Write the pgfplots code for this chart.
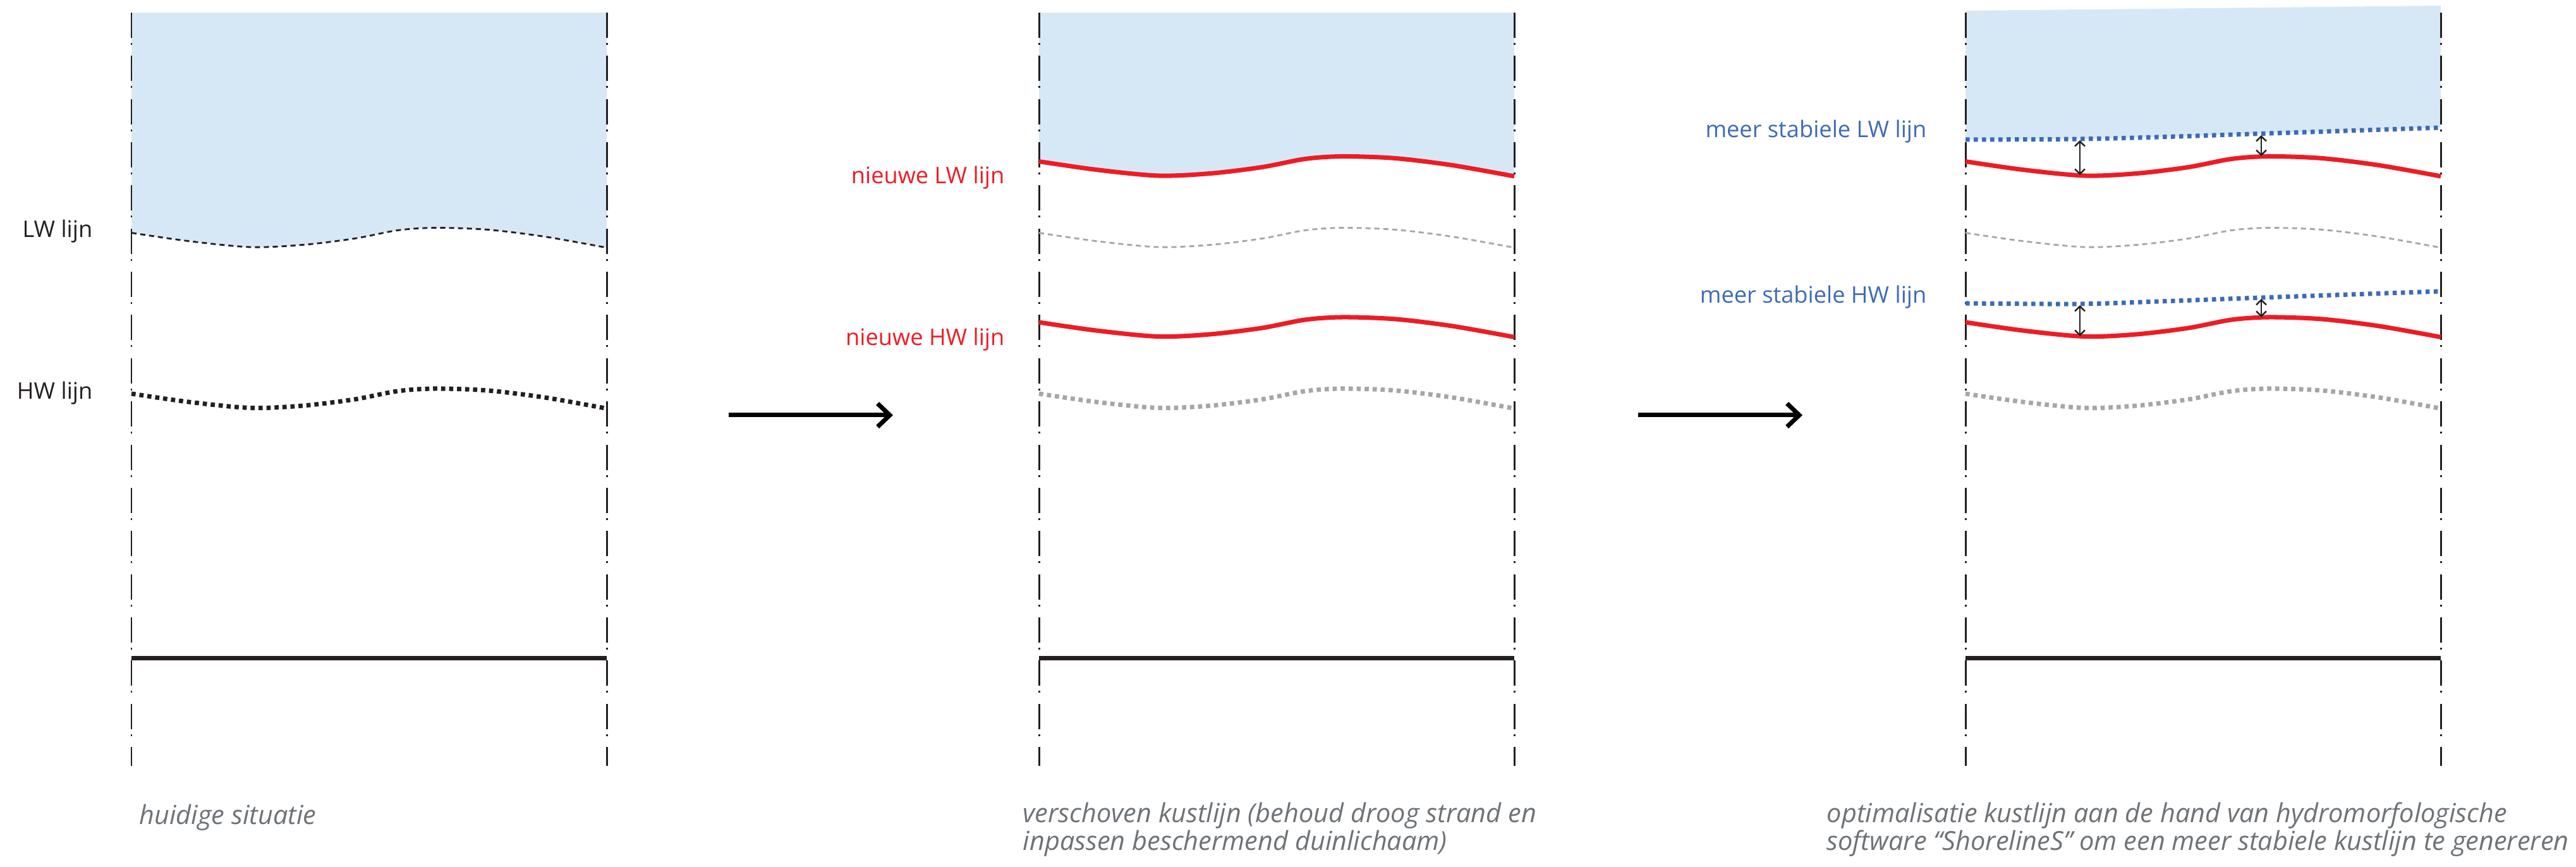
\documentclass[border=0pt]{standalone}
\usepackage{pgfplots}
\pgfplotsset{compat=1.18}
\usepgfplotslibrary{fillbetween}
\usetikzlibrary{arrows.meta}
\usepackage{fontspec}
\setmainfont{Open Sans}
\definecolor{waterblue}{RGB}{214,232,246}
\definecolor{kred}{RGB}{237,28,36}
\definecolor{kblue}{RGB}{61,107,181}
\definecolor{kgrey}{RGB}{166,166,166}
\definecolor{capgrey}{RGB}{109,114,119}
\definecolor{ink}{RGB}{35,31,32}
\tikzset{
  vline/.style={ink, line width=0.85pt, dash pattern=on 11.38pt off 2.28pt on 0.85pt off 4.94pt},
  thindot/.style={line width=0.8pt, dash pattern=on 2.3pt off 1.7pt},
  thickdot/.style={line width=2pt, dash pattern=on 1.9pt off 1.7pt},
  redline/.style={kred, line width=2pt},
  bluedot/.style={kblue, line width=2pt, dash pattern=on 1.85pt off 1.85pt},
  mylab/.style={inner sep=0pt, anchor=base east, font=\fontsize{10.3}{12}\selectfont},
  mycap/.style={inner sep=0pt, anchor=base west, text=capgrey, font=\fontsize{11.8}{13}\selectfont\itshape},
  dblarrow/.style={ink, line width=0.7pt, {Straight Barb[length=2.2pt,width=4.5pt]}-{Straight Barb[length=2.2pt,width=4.5pt]}},
  bigarrow/.style={black, line width=2pt, -{Straight Barb[length=5.5pt,width=10.5pt]}},
}
\begin{document}
\begin{tikzpicture}
\begin{axis}[name=ax, scale only axis, width=407.6mm, height=137.2mm,
  xmin=0, xmax=4076, ymin=0, ymax=1372, y dir=reverse, hide axis, clip=false]

% ---------- water fills ----------
\addplot[name path=t1, draw=none] coordinates {(208,20) (960,20)};
\addplot[name path=c1, draw=none, smooth] coordinates {(208,368.5) (298,381.5) (396,391) (479,387.5) (561,377.5) (629,364.5) (689,360.5) (772,363.5) (862,374.5) (960,392)};
\addplot[fill=waterblue, draw=none] fill between[of=t1 and c1];

\addplot[name path=t2, draw=none] coordinates {(1644,20) (2396,20)};
\addplot[name path=c2, draw=none, smooth] coordinates {(1644,255.5) (1734,268.5) (1832,278) (1915,274.5) (1997,264.5) (2065,251.5) (2125,247.5) (2208,250.5) (2298,261.5) (2396,279)};
\addplot[fill=waterblue, draw=none] fill between[of=t2 and c2];

\addplot[name path=t3, draw=none] coordinates {(3110,17) (3862,9)};
\addplot[name path=c3, draw=none, smooth] coordinates {(3110,221) (3291,220) (3430,216.5) (3578,211.5) (3862,202)};
\addplot[fill=waterblue, draw=none] fill between[of=t3 and c3];

% ---------- vertical dash-dot lines ----------
\addplot[vline] coordinates {(208,20) (208,1212)};
\addplot[vline] coordinates {(960,20) (960,1212)};
\addplot[vline] coordinates {(1644,20) (1644,1212)};
\addplot[vline] coordinates {(2396,20) (2396,1212)};
\addplot[vline] coordinates {(3110,20) (3110,1212)};
\addplot[vline] coordinates {(3862,20) (3862,1212)};

% ---------- bottom lines ----------
\addplot[ink, line width=2pt] coordinates {(208,1042) (960,1042)};
\addplot[ink, line width=2pt] coordinates {(1644,1042) (2396,1042)};
\addplot[ink, line width=2pt] coordinates {(3110,1042) (3862,1042)};

% ---------- panel 1 ----------
\addplot[ink, thindot, smooth] coordinates {(208,368.5) (298,381.5) (396,391) (479,387.5) (561,377.5) (629,364.5) (689,360.5) (772,363.5) (862,374.5) (960,392)};
\addplot[ink, thickdot, smooth] coordinates {(208,623) (298,636) (396,645.5) (479,642) (561,632) (629,619) (689,615) (772,618) (862,629) (960,646.5)};

% ---------- panel 2 ----------
\addplot[kgrey, thindot, smooth] coordinates {(1644,368.5) (1734,381.5) (1832,391) (1915,387.5) (1997,377.5) (2065,364.5) (2125,360.5) (2208,363.5) (2298,374.5) (2396,392)};
\addplot[kgrey, thickdot, smooth] coordinates {(1644,623) (1734,636) (1832,645.5) (1915,642) (1997,632) (2065,619) (2125,615) (2208,618) (2298,629) (2396,646.5)};
\addplot[redline, smooth] coordinates {(1644,255.5) (1734,268.5) (1832,278) (1915,274.5) (1997,264.5) (2065,251.5) (2125,247.5) (2208,250.5) (2298,261.5) (2396,279)};
\addplot[redline, smooth] coordinates {(1644,510) (1734,523) (1832,532.5) (1915,529) (1997,519) (2065,506) (2125,502) (2208,505) (2298,516) (2396,533.5)};

% ---------- panel 3 ----------
\addplot[kgrey, thindot, smooth] coordinates {(3110,368.5) (3200,381.5) (3298,391) (3381,387.5) (3463,377.5) (3531,364.5) (3591,360.5) (3674,363.5) (3764,374.5) (3862,392)};
\addplot[kgrey, thickdot, smooth] coordinates {(3110,623) (3200,636) (3298,645.5) (3381,642) (3463,632) (3531,619) (3591,615) (3674,618) (3764,629) (3862,646.5)};
\addplot[redline, smooth] coordinates {(3110,255.5) (3200,268.5) (3298,278) (3381,274.5) (3463,264.5) (3531,251.5) (3591,247.5) (3674,250.5) (3764,261.5) (3862,279)};
\addplot[redline, smooth] coordinates {(3110,510) (3200,523) (3298,532.5) (3381,529) (3463,519) (3531,506) (3591,502) (3674,505) (3764,516) (3862,533.5)};
\addplot[bluedot, smooth] coordinates {(3110,221) (3291,220) (3430,216.5) (3578,211.5) (3862,202)};
\addplot[bluedot, smooth] coordinates {(3110,480) (3291,481) (3430,476.5) (3578,471) (3862,461)};
\addplot[dblarrow] coordinates {(3291,222) (3291,277)};
\addplot[dblarrow] coordinates {(3578,214) (3578,247)};
\addplot[dblarrow] coordinates {(3291,483) (3291,532)};
\addplot[dblarrow] coordinates {(3578,473) (3578,502)};

% ---------- big arrows ----------
\addplot[bigarrow] coordinates {(1153,657) (1413,657)};
\addplot[bigarrow] coordinates {(2592,657) (2852,657)};

% ---------- labels ----------
\node[mylab, text=ink] at (axis cs:147,376) {LW lijn};
\node[mylab, text=ink] at (axis cs:147,632) {HW lijn};
\node[mylab, text=kred] at (axis cs:1590,291) {nieuwe LW lijn};
\node[mylab, text=kred] at (axis cs:1590,547) {nieuwe HW lijn};
\node[mylab, text=kblue] at (axis cs:3049,218) {meer stabiele LW lijn};
\node[mylab, text=kblue] at (axis cs:3049,480) {meer stabiele HW lijn};

% ---------- captions ----------
\node[mycap] at (axis cs:220,1305) {huidige situatie};
\node[mycap] at (axis cs:1618,1302) {verschoven kustlijn (behoud droog strand en};
\node[mycap] at (axis cs:1618,1346) {inpassen beschermend duinlichaam)};
\node[mycap] at (axis cs:2890,1302) {optimalisatie kustlijn aan de hand van hydromorfologische};
\node[mycap] at (axis cs:2890,1346) {software “ShorelineS” om een meer stabiele kustlijn te genereren};
\end{axis}
\pgfresetboundingbox
\path (ax.south west) rectangle (ax.north east);
\end{tikzpicture}
\end{document}
